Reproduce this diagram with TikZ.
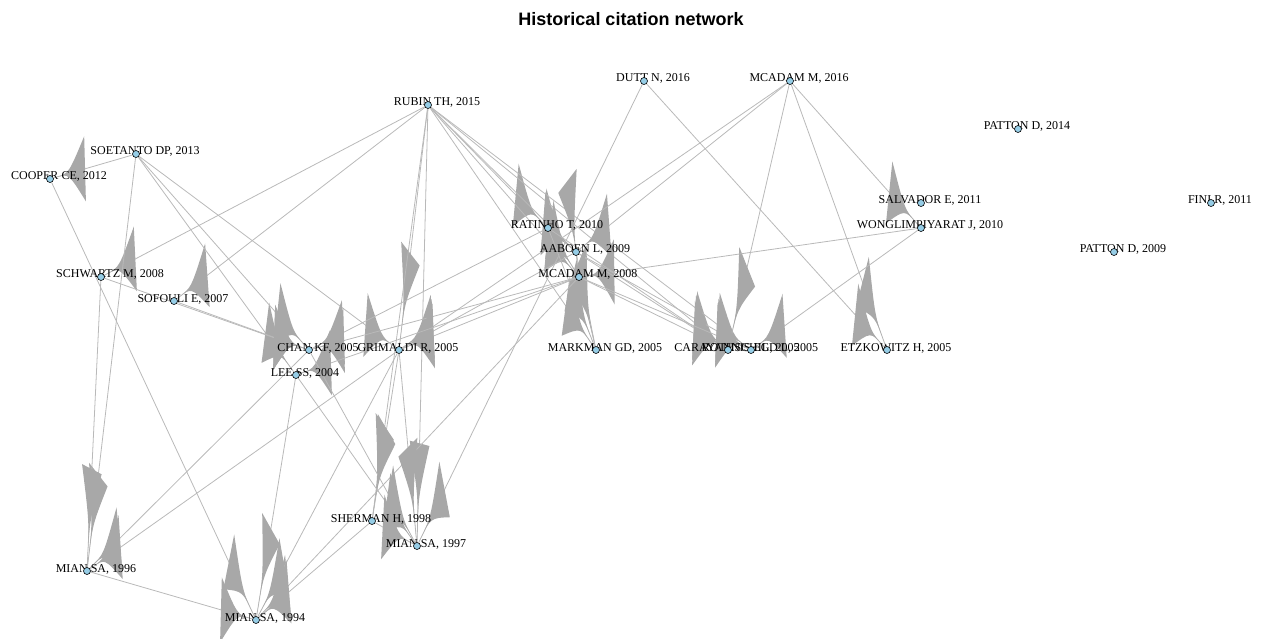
\documentclass[tikz,border=0pt]{standalone}
\usepackage{fontspec}
\setmainfont{Liberation Serif}
\newfontfamily\titlefont{Liberation Sans}
\definecolor{nodeblue}{RGB}{150,205,230}
\definecolor{edgegray}{RGB}{185,185,185}
\definecolor{sailgray}{RGB}{168,168,168}
\pgfdeclarelayer{edges}
\pgfdeclarelayer{labels}
\pgfsetlayers{edges,labels,main}

% paper node: small blue dot plus its label set to the right
\newcommand{\hnode}[4]{%
  \node[dot] (#1) at (#2,#3) {};
  \begin{pgfonlayer}{labels}
    \node[lab] (#1-l) at (#2+9,#3+1) {#4};
  \end{pgfonlayer}}

% wide arrow head drawn at the cited paper (#2) for a citation from #1
\newcommand{\sail}[2]{%
  \path (#1); \pgfgetlastxy{\SLsx}{\SLsy}%
  \path (#2); \pgfgetlastxy{\SLtx}{\SLty}%
  \pgfmathsetmacro{\SLdx}{\SLsx-\SLtx}%
  \pgfmathsetmacro{\SLdy}{\SLsy-\SLty}%
  \pgfmathsetmacro{\SLdl}{veclen(\SLdx,\SLdy)}%
  \pgfmathsetmacro{\SLdd}{veclen(\SLdx,\SLdy/3.3)}%
  \pgfmathsetmacro{\SLua}{\SLdx/\SLdd}%
  \pgfmathsetmacro{\SLub}{\SLdy/3.3/\SLdd}%
  \pgfmathsetmacro{\SLpx}{\SLtx+6*\SLdx/\SLdl}%
  \pgfmathsetmacro{\SLpy}{\SLty+6*\SLdy/\SLdl}%
  \pgfmathsetmacro{\SLax}{\SLpx+29.4*\SLua-9.9*\SLub}%
  \pgfmathsetmacro{\SLay}{\SLpy+97*\SLub+32.7*\SLua}%
  \pgfmathsetmacro{\SLbx}{\SLpx+29.4*\SLua+9.9*\SLub}%
  \pgfmathsetmacro{\SLby}{\SLpy+97*\SLub-32.7*\SLua}%
  \pgfmathsetmacro{\SLcx}{\SLpx+13*\SLua}%
  \pgfmathsetmacro{\SLcy}{\SLpy+43*\SLub}%
  \fill[sailfill] (\SLpx pt,\SLpy pt) .. controls (\SLcx pt,\SLcy pt) .. (\SLax pt,\SLay pt)
     -- (\SLbx pt,\SLby pt) .. controls (\SLcx pt,\SLcy pt) .. (\SLpx pt,\SLpy pt) -- cycle;}

\begin{document}
\begin{tikzpicture}[x=1pt,y=-1pt,
  dot/.style={circle,draw=black,line width=0.6pt,fill=nodeblue,inner sep=0pt,minimum size=7pt},
  lab/.style={anchor=base,inner sep=0pt,font=\fontsize{12}{14}\selectfont,text=black},
  edge/.style={draw=edgegray,line width=0.8pt},
  sailfill/.style={fill=sailgray}]
\useasboundingbox (0,0) rectangle (1267,639);

\node[anchor=base,inner sep=0pt,font=\titlefont\bfseries\fontsize{18}{21}\selectfont] (title) at (631,26) {Historical citation network};

\hnode{rubin}{428}{105}{RUBIN TH, 2015}
\hnode{dutt}{644}{81}{DUTT N, 2016}
\hnode{mcadam16}{790}{81}{MCADAM M, 2016}
\hnode{patton14}{1018}{129}{PATTON D, 2014}
\hnode{soetanto}{136}{154}{SOETANTO DP, 2013}
\hnode{cooper}{50}{179}{COOPER CE, 2012}
\hnode{salvador}{921}{203}{SALVADOR E, 2011}
\hnode{wong}{921}{228}{WONGLIMPIYARAT J, 2010}
\hnode{fini}{1211}{203}{FINI R, 2011}
\hnode{patton09}{1114}{252}{PATTON D, 2009}
\hnode{ratinho}{548}{228}{RATINHO T, 2010}
\hnode{aaboen}{576}{252}{AABOEN L, 2009}
\hnode{mcadam08}{579}{277}{MCADAM M, 2008}
\hnode{schwartz}{101}{277}{SCHWARTZ M, 2008}
\hnode{sofouli}{174}{301}{SOFOULI E, 2007}
\hnode{chan}{309}{350}{CHAN KF, 2005}
\hnode{grimaldi}{399}{350}{GRIMALDI R, 2005}
\hnode{lee}{296}{375}{LEE SS, 2004}
\hnode{markman}{596}{350}{MARKMAN GD, 2005}
\hnode{carayannis}{728}{350}{CARAYANNIS EG, 2005}
\hnode{rothschild}{751}{350}{ROTHSCHILD L, 2005}
\hnode{etzkowitz}{887}{350}{ETZKOWITZ H, 2005}
\hnode{sherman}{372}{521}{SHERMAN H, 1998}
\hnode{mianb}{417}{546}{MIAN SA, 1997}
\hnode{mianc}{87}{571}{MIAN SA, 1996}
\hnode{miana}{256}{620}{MIAN SA, 1994}

\begin{pgfonlayer}{edges}
\foreach \sa/\ta in {
  rubin/schwartz, rubin/sofouli, rubin/grimaldi, rubin/sherman, rubin/mianb,
  rubin/ratinho, rubin/aaboen, rubin/mcadam08, rubin/markman, rubin/carayannis, rubin/rothschild,
  dutt/mianb, dutt/etzkowitz,
  mcadam16/aaboen, mcadam16/grimaldi, mcadam16/carayannis, mcadam16/etzkowitz, mcadam16/wong,
  soetanto/cooper, soetanto/mianc, soetanto/lee, soetanto/chan, soetanto/grimaldi,
  cooper/miana, schwartz/chan, schwartz/mianc, sofouli/chan,
  wong/mcadam08, wong/rothschild,
  ratinho/aaboen, ratinho/mcadam08, ratinho/markman, ratinho/chan, ratinho/carayannis,
  aaboen/mcadam08, aaboen/markman, aaboen/grimaldi, aaboen/rothschild, aaboen/carayannis,
  mcadam08/markman, mcadam08/chan, mcadam08/grimaldi, mcadam08/lee, mcadam08/miana,
  mcadam08/carayannis, mcadam08/rothschild,
  chan/mianc, chan/mianb,
  grimaldi/mianc, grimaldi/sherman, grimaldi/mianb, grimaldi/miana,
  lee/miana, lee/mianb, sherman/miana, sherman/mianb, mianc/miana}
{
  \draw[edge] (\sa) -- (\ta);
  \sail{\sa}{\ta}
}
\end{pgfonlayer}
\end{tikzpicture}
\end{document}
